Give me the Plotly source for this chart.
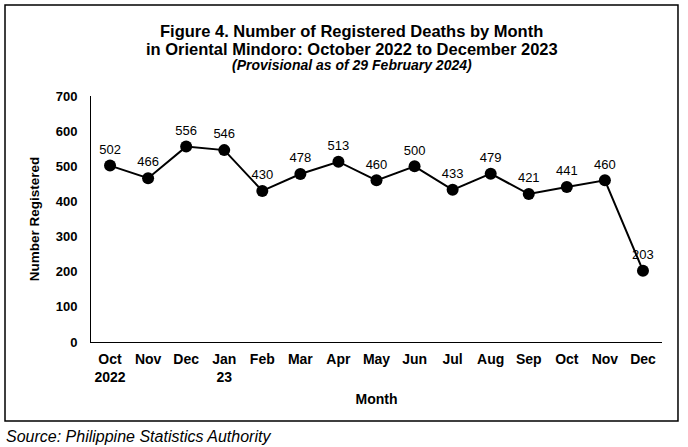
import plotly.graph_objects as go

month_labels = ["Oct<br>2022", "Nov", "Dec", "Jan<br>23", "Feb", "Mar", "Apr", "May",
                "Jun", "Jul", "Aug", "Sep", "Oct", "Nov", "Dec"]
deaths = [502, 466, 556, 546, 430, 478, 513, 460, 500, 433, 479, 421, 441, 460, 203]
y_ticks = [0, 100, 200, 300, 400, 500, 600, 700]

FONT = "Arial, Liberation Sans, sans-serif"
x_pos = list(range(len(month_labels)))

fig = go.Figure()
fig.add_trace(go.Scatter(
    x=x_pos, y=deaths, mode="lines+markers+text",
    line=dict(color="black", width=2),
    marker=dict(color="black", size=12),
    text=[str(v) for v in deaths], textposition="top center",
    textfont=dict(family=FONT, size=13, color="black"),
    showlegend=False, cliponaxis=False, hoverinfo="skip",
))

fig.update_layout(
    width=688, height=447,
    margin=dict(l=91, r=26, t=96, b=105),
    paper_bgcolor="white", plot_bgcolor="white",
    font=dict(family=FONT, color="black"),
    xaxis=dict(
        range=[-0.5, len(month_labels) - 0.5],
        tickvals=x_pos, ticktext=month_labels,
        tickfont=dict(family=FONT, size=14, color="black", weight="bold"),
        showline=True, linecolor="black", linewidth=1,
        showgrid=False, zeroline=False, ticks="", ticklabelstandoff=4,
        automargin=False,
        title=dict(text="<b>Month</b>", font=dict(family=FONT, size=14, color="black"), standoff=10),
        fixedrange=True,
    ),
    yaxis=dict(
        range=[0, 700], tickvals=y_ticks,
        tickfont=dict(family=FONT, size=13, color="black", weight="bold"),
        showline=True, linecolor="black", linewidth=1,
        showgrid=False, zeroline=False, ticks="", ticklabelstandoff=10,
        automargin=False,
        title=dict(text="<b>Number Registered</b>", font=dict(family=FONT, size=13.5, color="black"), standoff=12),
        fixedrange=True,
    ),
    shapes=[dict(type="rect", xref="paper", yref="paper",
                 x0=-0.1506, x1=1.028, y0=-0.321, y1=1.370,
                 line=dict(color="black", width=1.5), fillcolor="rgba(0,0,0,0)", layer="below")],
    annotations=[
        dict(text="<b>Figure 4. Number of Registered Deaths by Month</b>", xref="paper", yref="paper",
             x=0.457, y=1.264, xanchor="center", yanchor="middle", showarrow=False,
             font=dict(family=FONT, size=16.5, color="black")),
        dict(text="<b>in Oriental Mindoro: October 2022 to December 2023</b>", xref="paper", yref="paper",
             x=0.457, y=1.191, xanchor="center", yanchor="middle", showarrow=False,
             font=dict(family=FONT, size=16.5, color="black")),
        dict(text="<b><i>(Provisional as of 29 February 2024)</i></b>", xref="paper", yref="paper",
             x=0.457, y=1.124, xanchor="center", yanchor="middle", showarrow=False,
             font=dict(family=FONT, size=14, color="black")),
        dict(text="<i>Source: Philippine Statistics Authority</i>", xref="paper", yref="paper",
             x=-0.152, y=-0.386, xanchor="left", yanchor="middle", showarrow=False,
             font=dict(family=FONT, size=16, color="black")),
    ],
)

fig.write_html("out.html", config={"displayModeBar": False},
               post_script="document.body.style.margin='0px';")
